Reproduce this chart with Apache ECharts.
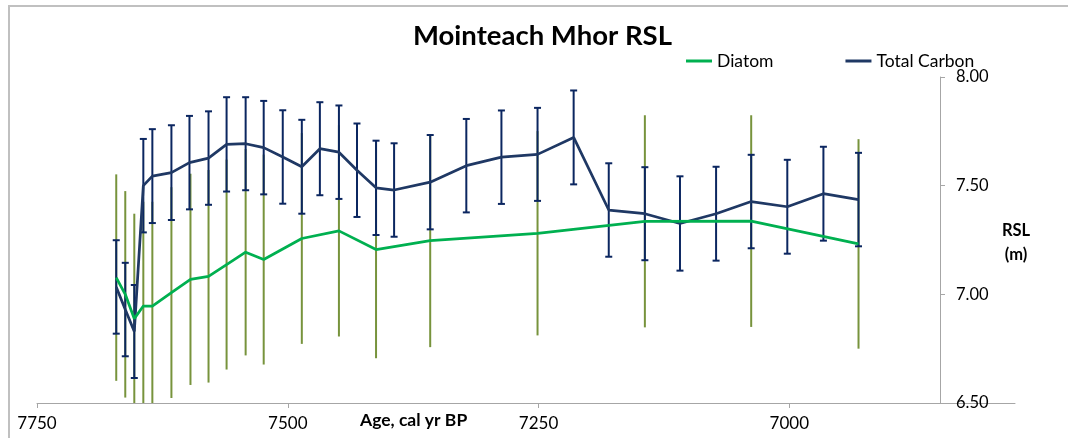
<!DOCTYPE html>
<html>
<head>
<meta charset="utf-8">
<title>Mointeach Mhor RSL</title>
<script src="https://cdn.jsdelivr.net/npm/echarts@6/dist/echarts.min.js"></script>
<style>
  html, body { margin: 0; padding: 0; background: #ffffff; }
  #chart { width: 1068px; height: 438px; }
</style>
</head>
<body>
<div id="chart"></div>
<script>
// Age (cal yr BP) and relative sea level (m) for the Total Carbon record
const carbonAge = [7671, 7662, 7653, 7644, 7635, 7616, 7598, 7579, 7561, 7542, 7524, 7505,
  7486, 7468, 7449, 7431, 7412, 7394, 7358, 7322, 7287, 7251, 7215, 7180, 7144, 7109,
  7073, 7038, 7002, 6966, 6931];
const carbonRsl = [7.034, 6.930, 6.829, 7.500, 7.544, 7.560, 7.606, 7.627, 7.690, 7.693, 7.675, 7.632,
  7.587, 7.670, 7.654, 7.571, 7.490, 7.480, 7.516, 7.592, 7.631, 7.644, 7.722, 7.388, 7.371, 7.326,
  7.371, 7.427, 7.403, 7.463, 7.436];
const carbonErr = [0.215, 0.215, 0.214, 0.215, 0.216, 0.218, 0.215, 0.215, 0.217, 0.214, 0.215, 0.215,
  0.216, 0.214, 0.215, 0.215, 0.217, 0.215, 0.217, 0.215, 0.215, 0.214, 0.216, 0.215, 0.214, 0.217,
  0.216, 0.215, 0.216, 0.216, 0.215];

// Age and relative sea level (m) for the Diatom record
const diatomAge = [7671, 7662, 7653, 7644, 7635, 7616, 7597, 7579, 7561, 7542, 7524,
  7486, 7449, 7412, 7358, 7251, 7144, 7038, 6931];
const diatomRsl = [7.077, 7.000, 6.888, 6.946, 6.946, 7.008, 7.069, 7.083, 7.137, 7.194, 7.160,
  7.257, 7.292, 7.206, 7.247, 7.281, 7.336, 7.337, 7.232];
const diatomErr = [0.475, 0.475, 0.483, 0.480, 0.480, 0.485, 0.486, 0.489, 0.483, 0.475, 0.483,
  0.485, 0.486, 0.500, 0.490, 0.470, 0.488, 0.487, 0.482];

// Axis ticks
const ageTicks = [7750, 7500, 7250, 7000];
const rslTicks = [6.5, 7.0, 7.5, 8.0];

const FONT = 'Lato';
const axisGrey = '#A6A6A6';
const carbonLine = '#1F3864';
const carbonBar = '#0B2660';
const diatomLine = '#00B050';
const diatomBar = '#77933C';

// Vertical error bar; optional caps; clipped to the plotting area
function errorBars(ages, vals, errs, color, width, capHalf, z) {
  return {
    type: 'custom',
    z: z,
    silent: true,
    renderItem: function (params, api) {
      const cs = params.coordSys;
      const top = api.coord([api.value(0), api.value(2)]);
      const bot = api.coord([api.value(0), api.value(1)]);
      const yMin = cs.y, yMax = cs.y + cs.height;
      const y1 = Math.max(yMin, Math.min(yMax, top[1]));
      const y2 = Math.max(yMin, Math.min(yMax, bot[1]));
      const x = top[0];
      const style = { stroke: color, lineWidth: width };
      const children = [{ type: 'line', shape: { x1: x, y1: y1, x2: x, y2: y2 }, style: style }];
      if (capHalf > 0) {
        if (top[1] >= yMin) children.push({ type: 'line', shape: { x1: x - capHalf, y1: top[1], x2: x + capHalf, y2: top[1] }, style: style });
        if (bot[1] <= yMax) children.push({ type: 'line', shape: { x1: x - capHalf, y1: bot[1], x2: x + capHalf, y2: bot[1] }, style: style });
      }
      return { type: 'group', children: children };
    },
    encode: { x: 0, y: [1, 2] },
    data: ages.map(function (a, i) { return [a, vals[i] - errs[i], vals[i] + errs[i]]; })
  };
}

const chart = echarts.init(document.getElementById('chart'), null, { renderer: 'canvas' });

chart.setOption({
  animation: false,
  backgroundColor: '#ffffff',
  title: [
    {
      text: 'Mointeach Mhor RSL',
      left: 408, top: 17,
      textStyle: { fontFamily: FONT, fontSize: 27.5, fontWeight: 'bold', color: '#000000' }
    },
    {
      text: 'Age, cal yr BP',
      left: 355, top: 406,
      textStyle: { fontFamily: FONT, fontSize: 17.5, fontWeight: 'bold', color: '#000000' }
    },
    {
      text: 'RSL\n(m)',
      left: 1011, top: 214, textAlign: 'center',
      textStyle: { fontFamily: FONT, fontSize: 16.5, fontWeight: 'bold', color: '#000000', lineHeight: 24, align: 'center' }
    }
  ],
  legend: {
    data: ['Diatom', 'Total Carbon'],
    left: 681, top: 47,
    icon: 'rect',
    itemWidth: 26, itemHeight: 3,
    itemGap: 72,
    textStyle: { fontFamily: FONT, fontSize: 17.5, color: '#000000' }
  },
  graphic: [
    {
      type: 'polyline',
      silent: true,
      shape: { points: [[9, 438], [9, 6], [1068, 6]] },
      style: { stroke: '#C0C0C0', lineWidth: 2, fill: null }
    }
  ],
  grid: { left: 37, right: 53, top: 77, bottom: 35, containLabel: false },
  xAxis: {
    type: 'value',
    inverse: true,
    min: 6775, max: 7750,
    splitLine: { show: false },
    axisLine: { onZero: false, lineStyle: { color: axisGrey, width: 1 } },
    axisTick: { show: true, length: 5, customValues: ageTicks, lineStyle: { color: axisGrey } },
    axisLabel: {
      customValues: ageTicks, margin: 12,
      fontFamily: FONT, fontSize: 17, color: '#000000',
      formatter: function (v) { return String(v); }
    }
  },
  yAxis: {
    type: 'value',
    position: 'right',
    offset: -75,
    min: 6.5, max: 8.0,
    splitLine: { show: false },
    axisLine: { show: true, onZero: false, lineStyle: { color: axisGrey, width: 1 } },
    axisTick: { show: true, length: 5, customValues: rslTicks, lineStyle: { color: axisGrey } },
    axisLabel: {
      customValues: rslTicks, margin: 16,
      fontFamily: FONT, fontSize: 16.5, color: '#000000',
      formatter: function (v) { return v.toFixed(2); }
    }
  },
  series: [
    errorBars(diatomAge, diatomRsl, diatomErr, diatomBar, 2, 0, 1),
    errorBars(carbonAge, carbonRsl, carbonErr, carbonBar, 2, 3.5, 2),
    {
      name: 'Total Carbon',
      type: 'line',
      z: 3,
      showSymbol: false,
      color: carbonLine,
      lineStyle: { color: carbonLine, width: 2.75 },
      data: carbonAge.map(function (a, i) { return [a, carbonRsl[i]]; })
    },
    {
      name: 'Diatom',
      type: 'line',
      z: 4,
      showSymbol: false,
      color: diatomLine,
      lineStyle: { color: diatomLine, width: 2.75 },
      data: diatomAge.map(function (a, i) { return [a, diatomRsl[i]]; })
    }
  ]
});
</script>
</body>
</html>
